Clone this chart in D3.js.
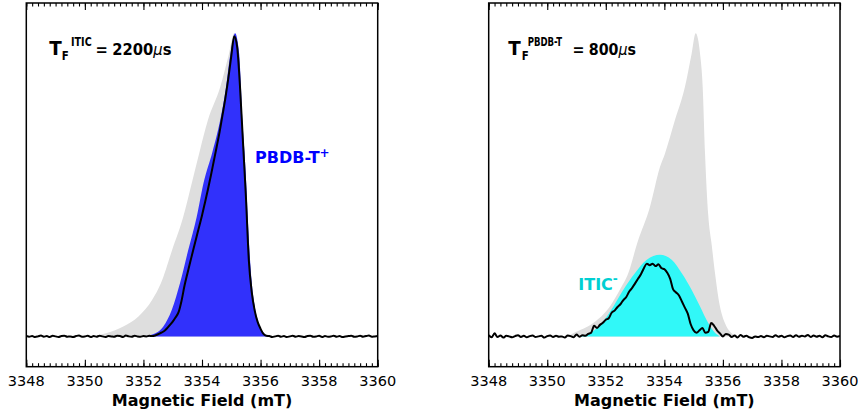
<!DOCTYPE html>
<html><head><meta charset="utf-8">
<script src="https://cdn.jsdelivr.net/npm/d3@7"></script>
<style>body{margin:0;background:#fff}svg{display:block}text{font-family:"DejaVu Sans",sans-serif}</style>
</head><body><svg id="chart" width="858" height="412"></svg>
<script>
// ---------- data ----------
const xDomain = [3348, 3360];
const yDomain = [-0.1, 1.1];
const xTicks = [3348, 3350, 3352, 3354, 3356, 3358, 3360];
const traceStart = 3348.0, traceStep = 0.1;

// Left panel (T_F^ITIC = 2200 us): measured trace, black
const leftTrace = [
 0.002,-0.001,0.001,-0.002,0.000,0.003,-0.001,0.001,-0.002,0.002,
 0.000,-0.002,0.001,0.002,-0.001,0.000,-0.002,0.001,0.003,-0.001,
 0.000,0.002,-0.002,0.001,-0.001,0.002,0.000,-0.002,0.001,0.000,
 -0.001,0.002,0.001,-0.002,0.003,0.000,-0.001,0.002,0.000,-0.001,
 0.001,0.000,0.002,
 0.001,0.003,0.007,0.012,0.017,0.026,0.037,0.049,0.063,0.080,
 0.117,0.166,0.207,0.246,0.285,0.323,0.361,0.399,0.441,0.484,
 0.529,0.577,0.625,0.674,0.730,0.787,0.852,0.925,0.990,0.955,
 0.820,0.640,0.460,0.250,0.145,0.085,0.048,0.025,0.008,0.002,
 0.001,-0.002,0.000,0.002,-0.001,0.001,-0.002,0.000,0.002,-0.001,
 0.001,0.000,-0.002,0.001,0.002,-0.001,0.000,0.002,-0.002,0.001,
 -0.001,0.000,0.002,-0.001,0.001,-0.002,0.000,0.001,0.002,-0.001,
 0.000,0.002,-0.001,0.001,0.003,-0.001,0.000,0.001
];
// Left panel grey reference spectrum
const leftGrayField = [3350.3,3350.75,3351.31,3351.83,3352.3,3352.6,3352.98,3353.36,3353.65,3353.92,3354.2,3354.62,3354.92,3355.1,3355.25,3355.32,3355.37,3355.44,3355.5,3355.55,3355.61,3355.69,3355.8,3355.96,3356.2];
const leftGrayValue = [0,0.011,0.033,0.066,0.121,0.176,0.285,0.395,0.505,0.61,0.713,0.822,0.932,1.0,0.932,0.822,0.713,0.61,0.505,0.395,0.285,0.176,0.088,0.033,0];
// Left panel PBDB-T+ simulation (blue)
const bluField = [3352.0,3352.3,3352.68,3352.97,3353.25,3353.53,3353.82,3354.05,3354.36,3354.62,3354.82,3354.97,3355.13,3355.27,3355.33,3355.38,3355.45,3355.51,3355.56,3355.62,3355.70,3355.82,3355.98,3356.26];
const bluValue = [0,0.006,0.033,0.088,0.176,0.285,0.395,0.505,0.61,0.713,0.822,0.932,1.0,0.932,0.822,0.713,0.61,0.505,0.395,0.285,0.176,0.088,0.033,0];

// Right panel (T_F^PBDB-T = 800 us): measured trace, black
const rightTrace = [
 0.004,-0.003,0.010,-0.002,0.003,-0.004,0.002,0.000,-0.003,0.001,
 0.004,-0.002,0.002,-0.003,0.001,0.003,-0.002,0.000,0.002,-0.004,
 0.001,0.003,-0.002,0.002,-0.001,0.000,-0.004,0.003,0.001,-0.003,
 0.006,-0.001,0.004,0.002,
 0.008,0.012,0.035,0.028,0.038,0.045,0.055,0.060,0.078,0.085,
 0.097,0.106,0.120,0.130,0.148,0.160,0.175,0.190,0.205,0.225,
 0.240,0.235,0.240,0.232,0.238,0.225,0.222,0.210,0.190,0.155,
 0.145,0.135,0.115,0.095,0.075,0.040,0.020,0.012,0.020,0.028,
 0.012,0.015,0.044,0.035,0.020,0.010,0.000,0.008,0.006,
 -0.002,0.003,-0.004,0.005,-0.001,0.002,-0.003,-0.005,0.000,-0.002,
 0.001,-0.003,0.002,0.000,-0.002,0.004,-0.001,0.002,-0.003,0.001,
 0.003,-0.002,0.004,-0.001,0.002,0.000,0.005,-0.002,0.003,-0.001,
 0.002,-0.003,0.004,0.000,-0.002,0.003,-0.001,0.002
];
// Right panel grey reference spectrum
const rightGrayField = [3350.7,3350.89,3351.57,3352.14,3352.48,3352.77,3353.08,3353.51,3353.85,3354.02,3354.36,3354.7,3354.93,3355.07,3355.22,3355.31,3355.39,3355.5,3355.62,3355.73,3355.9,3356.07,3356.3,3356.45];
const rightGrayValue = [0,0.01,0.044,0.099,0.154,0.209,0.31,0.428,0.559,0.603,0.713,0.822,0.932,1.0,0.932,0.822,0.603,0.4,0.3,0.209,0.099,0.044,0.01,0];
// Right panel ITIC- simulation (cyan)
const cyanField = [3351.1,3351.63,3351.86,3352.26,3352.6,3353.0,3353.4,3353.85,3354.25,3354.59,3354.93,3355.22,3355.5,3355.73,3355.9];
const cyanValue = [0,0.022,0.044,0.099,0.154,0.209,0.253,0.269,0.253,0.209,0.154,0.099,0.044,0.012,0];

// ---------- drawing ----------
const svg = d3.select("#chart");
const plotTop = 3, plotBottom = 366.7;
const panels = [
  {x0: 26.3, x1: 377.7, trace: leftTrace, grayF: leftGrayField, grayV: leftGrayValue,
   fillF: bluField, fillV: bluValue, fillColor: "#3131fb"},
  {x0: 488.7, x1: 840, trace: rightTrace, grayF: rightGrayField, grayV: rightGrayValue,
   fillF: cyanField, fillV: cyanValue, fillColor: "#31f8f8"}
];

const y = d3.scaleLinear().domain(yDomain).range([plotBottom, plotTop]);

panels.forEach((p, pi) => {
  const x = d3.scaleLinear().domain(xDomain).range([p.x0, p.x1]);
  const g = svg.append("g");
  const clipId = "clip" + pi;
  svg.append("clipPath").attr("id", clipId).append("rect")
    .attr("x", p.x0).attr("y", plotTop).attr("width", p.x1 - p.x0).attr("height", plotBottom - plotTop);
  const pg = g.append("g").attr("clip-path", `url(#${clipId})`);

  const area = d3.area().x(d => x(d[0])).y0(y(0)).y1(d => y(d[1])).curve(d3.curveMonotoneX);
  pg.append("path").datum(p.grayF.map((f, i) => [f, p.grayV[i]]))
    .attr("d", area).attr("fill", "#dedede");
  pg.append("path").datum(p.fillF.map((f, i) => [f, p.fillV[i]]))
    .attr("d", area).attr("fill", p.fillColor);
  const line = d3.line().x(d => x(d[0])).y(d => y(d[1])).curve(d3.curveMonotoneX);
  pg.append("path").datum(p.trace.map((v, i) => [traceStart + i * traceStep, v]))
    .attr("d", line).attr("fill", "none").attr("stroke", "#000").attr("stroke-width", 2)
    .attr("stroke-linejoin", "round");

  // axes: bottom and top with inward ticks
  const minor = d3.range(0, 61).map(i => xDomain[0] + i * 0.2);
  const axB = d3.axisBottom(x).tickValues(xTicks).tickSize(-7).tickFormat("");
  const axBm = d3.axisBottom(x).tickValues(minor).tickSize(-3.5).tickFormat("");
  const axT = d3.axisTop(x).tickValues(xTicks).tickSize(-7).tickFormat("");
  const axTm = d3.axisTop(x).tickValues(minor).tickSize(-3.5).tickFormat("");
  [[axBm, plotBottom], [axB, plotBottom], [axTm, plotTop], [axT, plotTop]].forEach(([a, yy]) => {
    const ag = g.append("g").attr("transform", `translate(0,${yy})`).call(a);
    ag.select(".domain").remove();
    ag.selectAll("line").attr("stroke", "#000").attr("stroke-width", 1.1);
  });
  // tick labels
  g.selectAll(".tl").data(xTicks).enter().append("text")
    .attr("x", d => x(d)).attr("y", 386).attr("text-anchor", "middle")
    .attr("font-size", 14.5).attr("fill", "#000").text(d => d);
  // frame
  g.append("rect").attr("x", p.x0).attr("y", plotTop).attr("width", p.x1 - p.x0)
    .attr("height", plotBottom - plotTop).attr("fill", "none").attr("stroke", "#000").attr("stroke-width", 1.5);
  // x title
  g.append("text").attr("x", (p.x0 + p.x1) / 2).attr("y", 405.5).attr("text-anchor", "middle")
    .attr("font-size", 16).attr("font-weight", "bold").text("Magnetic Field (mT)");
});

// annotation: T_F^{sup} = value μs
function annot(a) {
  const g = svg.append("g").attr("fill", "#000").attr("font-weight", "bold");
  const fit = (sel, len) => sel.attr("textLength", len).attr("lengthAdjust", "spacingAndGlyphs");
  fit(g.append("text").attr("x", a.tx).attr("y", 54.7).attr("font-size", 20).text("T"), 12.5);
  fit(g.append("text").attr("x", a.supX).attr("y", 45.5).attr("font-size", 12.5).text(a.sup), a.supLen);
  fit(g.append("text").attr("x", a.subX).attr("y", 59.8).attr("font-size", 12.5).text("F"), 7);
  const v = g.append("text").attr("x", a.eqX).attr("y", 54.7).attr("font-size", 16.5);
  v.append("tspan").text("=");
  v.append("tspan").attr("dx", 5).text(a.num);
  v.append("tspan").attr("font-weight", "normal").attr("font-style", "italic").text("μ");
  v.append("tspan").text("s");
  fit(v, a.valLen);
}
annot({tx: 49.3, sup: "ITIC", supX: 71, supLen: 20.7, subX: 61.7, eqX: 95.5, num: "2200", valLen: 76});
annot({tx: 508.3, sup: "PBDB-T", supX: 527.7, supLen: 34.5, subX: 521.7, eqX: 572.5, num: "800", valLen: 63.5});

// species labels
const lb = svg.append("text").attr("x", 255).attr("y", 163.3).attr("font-size", 16)
  .attr("font-weight", "bold").attr("fill", "#0000ff");
lb.append("tspan").text("PBDB-T");
lb.append("tspan").attr("font-size", 12).attr("dy", -6.5).text("+");
const lc = svg.append("text").attr("x", 578.3).attr("y", 290).attr("font-size", 16)
  .attr("font-weight", "bold").attr("fill", "#00cfd2");
lc.append("tspan").text("ITIC");
lc.append("tspan").attr("font-size", 12).attr("dy", -7).text("-");
</script></body></html>
